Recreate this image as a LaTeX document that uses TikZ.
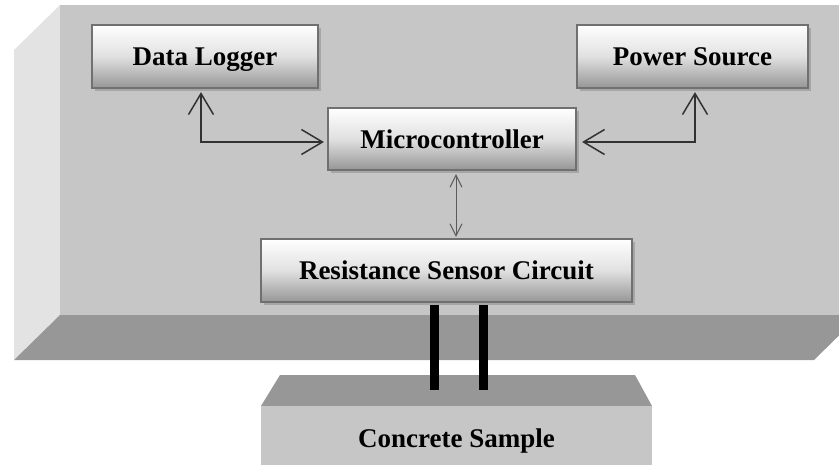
\documentclass[tikz,border=0pt]{standalone}
\usepackage{fontspec}
\setmainfont{Liberation Serif}
\usetikzlibrary{arrows.meta,shadows}

\definecolor{faceFront}{RGB}{198,198,198}
\definecolor{faceSide}{RGB}{227,227,227}
\definecolor{faceBottom}{RGB}{151,151,151}
\definecolor{boxEdge}{RGB}{112,112,112}
\definecolor{boxLow}{RGB}{150,150,150}
\definecolor{wire}{RGB}{50,50,50}

\tikzset{
  labelfont/.style={font=\fontsize{27}{31}\selectfont\bfseries, text=black,
    text height=18pt, text depth=0pt},
  unitbox/.style={
    rectangle, draw=boxEdge, line width=2.2pt,
    top color=white, bottom color=boxLow, middle color=white!88!black,
    drop shadow={shadow xshift=3pt, shadow yshift=-3pt, fill=black!35, opacity=1},
    labelfont, inner sep=0pt
  },
  biarrow/.style={
    draw=wire, line width=1.5pt,
    {Straight Barb[length=21pt,width=25pt,line width=1.5pt]}-{Straight Barb[length=21pt,width=25pt,line width=1.5pt]}
  },
  thinarrow/.style={
    draw=wire!80, line width=1pt,
    {Straight Barb[length=12pt,width=12pt,line width=1pt]}-{Straight Barb[length=12pt,width=12pt,line width=1pt]}
  },
  rod/.style={draw=black, line width=9pt}
}

\begin{document}
\begin{tikzpicture}[x=1pt,y=-1pt]
\useasboundingbox (0,0) rectangle (839,464);
\begin{scope}
\clip (0,0) rectangle (839,464);

% enclosure: left side, bottom and front faces
\fill[faceSide] (14,50) -- (60,5) -- (60,315) -- (14,360) -- cycle;
\fill[faceBottom] (14,360) -- (60,315) -- (860,315) -- (814,360) -- cycle;
\fill[faceFront] (60,5) rectangle (860,315);

% concrete slab
\fill[faceBottom] (280,375) -- (635,375) -- (652,406) -- (261,406) -- cycle;
\node[fill=faceFront, minimum width=391pt, minimum height=70pt, inner sep=0pt,
      anchor=north west] (sample) at (261,406) {};
\node[labelfont] (sampletext) at (456.5,438) {Concrete Sample};
\coordinate (probeA) at (434,390);
\coordinate (probeB) at (483,390);

% blocks
\node[unitbox, minimum width=226pt, minimum height=63pt] (logger) at (205,56.5) {Data Logger};
\node[unitbox, minimum width=231pt, minimum height=63pt] (power)  at (692.5,56.5) {Power Source};
\node[unitbox, minimum width=248pt, minimum height=62pt] (micro)  at (452,139) {Microcontroller};

% probes from the sensor circuit into the sample
\draw[rod] (probeA |- 0,300) -- (probeA);
\draw[rod] (probeB |- 0,300) -- (probeB);
\node[unitbox, minimum width=371pt, minimum height=63pt] (sensor) at (446.5,270.5) {Resistance Sensor Circuit};

% links
\draw[biarrow] ([xshift=-4pt,yshift=-3pt]logger.south) |- ([yshift=-3pt,xshift=-3pt]micro.west);
\draw[biarrow] ([xshift=2.5pt,yshift=-3pt]power.south) |- ([yshift=-3pt,xshift=5pt]micro.east);
\draw[thinarrow] ([xshift=4pt,yshift=-3pt]micro.south) -- ([xshift=9.5pt,yshift=1pt]sensor.north);
\end{scope}
\end{tikzpicture}
\end{document}
